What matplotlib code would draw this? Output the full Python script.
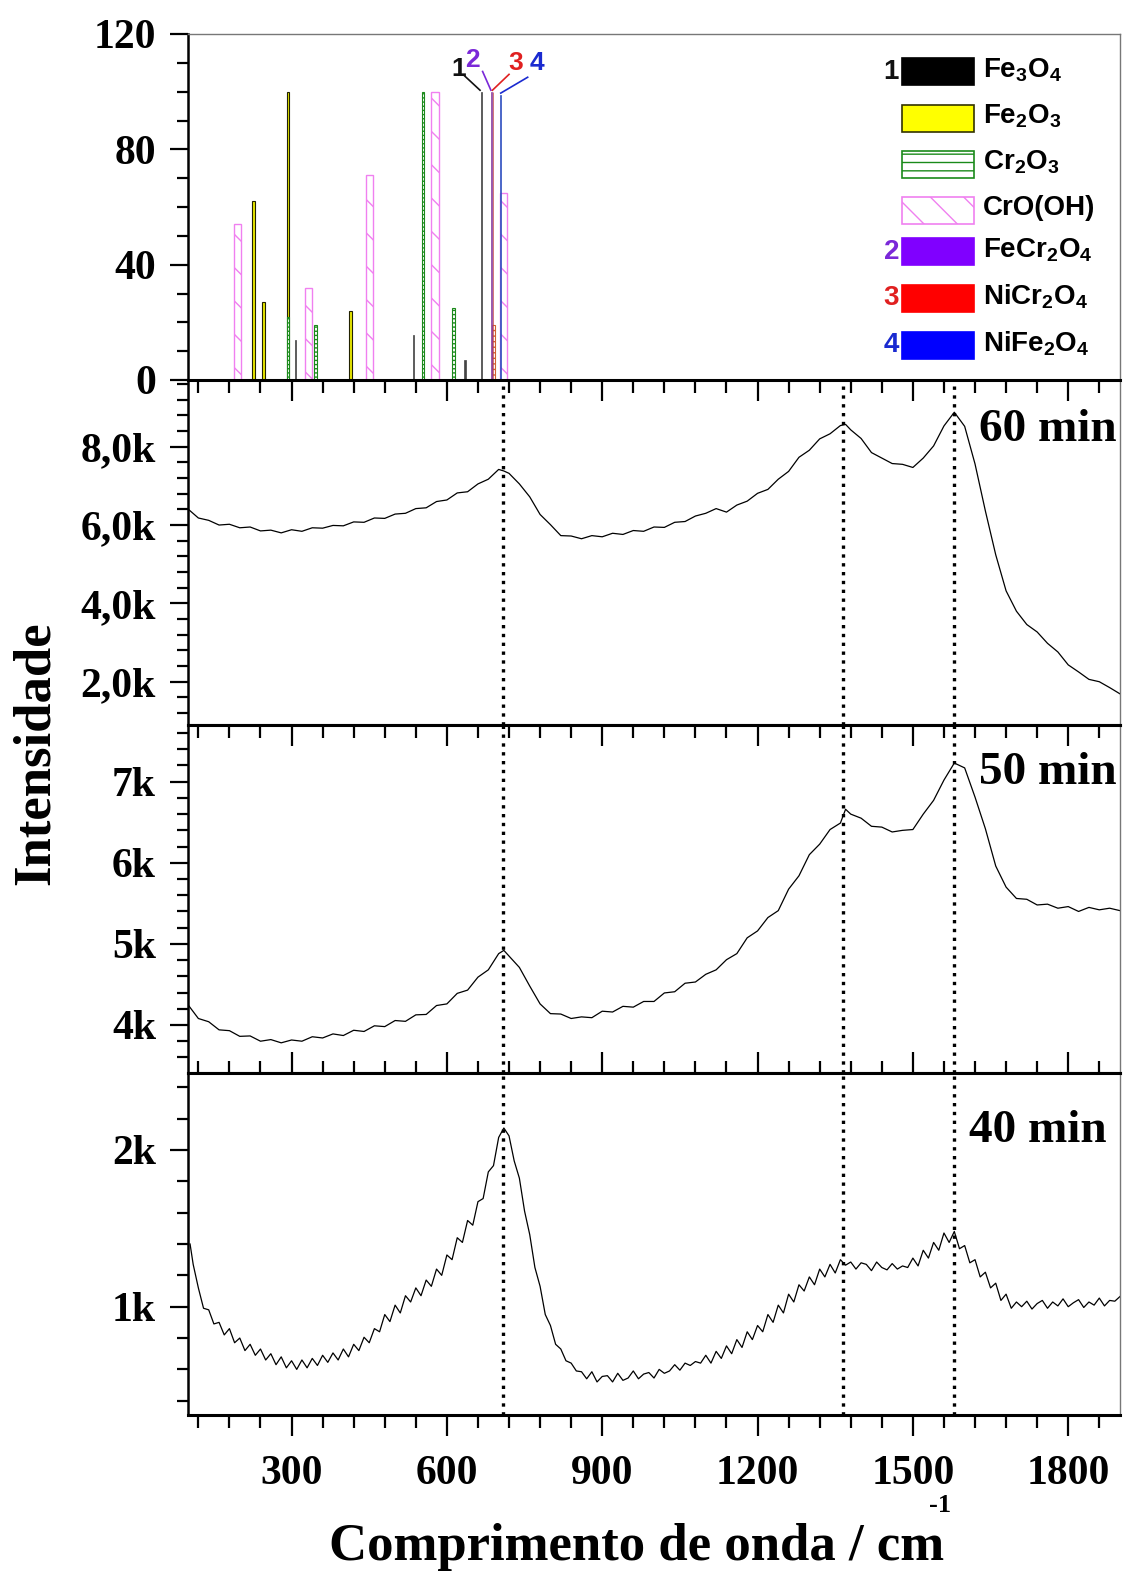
import numpy as np
import matplotlib
matplotlib.use('Agg')
import matplotlib.pyplot as plt
from matplotlib.patches import Rectangle
from matplotlib.ticker import MultipleLocator, FixedLocator, FuncFormatter

plt.rcParams['font.family'] = ['Liberation Serif', 'DejaVu Serif']
plt.rcParams['mathtext.fontset'] = 'custom'
plt.rcParams['mathtext.rm'] = 'Liberation Sans:bold'
plt.rcParams['mathtext.bf'] = 'Liberation Sans:bold'
plt.rcParams['mathtext.default'] = 'rm'
plt.rcParams['hatch.linewidth'] = 1.0

# ---------------- reference bars (top panel) ----------------
fe3o4_pos = [308, 535, 635, 667]
fe3o4_h = [14, 15.6, 7, 100]
fe2o3_pos = [226, 246, 293, 414]
fe2o3_h = [62, 27, 100, 24]
cr2o3_pos = [293, 346, 554, 613]
cr2o3_h = [22, 19, 100, 25]
croh_pos = [196, 332, 450, 577, 709]
croh_h = [54, 32, 71, 100, 65]
fecr2o4_pos = [686]
fecr2o4_h = [100]
nicr2o4_pos = [689, 690]
nicr2o4_h = [100, 19]
nife2o4_pos = [703]
nife2o4_h = [99]

legend_labels = [r'Fe$_3$O$_4$', r'Fe$_2$O$_3$', r'Cr$_2$O$_3$', 'CrO(OH)',
                 r'FeCr$_2$O$_4$', r'NiCr$_2$O$_4$', r'NiFe$_2$O$_4$']
legend_numbers = ['1', '', '', '', '2', '3', '4']

# ---------------- spectra ----------------
wn6050 = [100, 120, 140, 160, 180, 200, 220, 240, 260, 280, 300, 320, 340, 360, 380, 400, 420, 440,
          460, 480, 500, 520, 540, 560, 580, 600, 620, 640, 660, 680, 700, 710, 720, 740, 760, 780,
          800, 820, 840, 860, 880, 900, 920, 940, 960, 980, 1000, 1020, 1040, 1060, 1080, 1100,
          1120, 1140, 1160, 1180, 1200, 1220, 1240, 1260, 1280, 1300, 1320, 1340, 1360, 1370, 1380,
          1400, 1420, 1440, 1460, 1480, 1500, 1520, 1540, 1560, 1580, 1600, 1620, 1640, 1660, 1680,
          1700, 1720, 1740, 1760, 1780, 1800, 1820, 1840, 1860, 1880, 1900]
int60 = [6410, 6180, 6120, 6000, 6020, 5930, 5950, 5850, 5870, 5800, 5880, 5840, 5930, 5920, 5990,
         5980, 6080, 6070, 6180, 6170, 6280, 6300, 6420, 6440, 6600, 6640, 6820, 6850, 7050, 7170,
         7420, 7380, 7320, 7050, 6720, 6270, 6010, 5730, 5720, 5650, 5730, 5700, 5790, 5760, 5860,
         5840, 5950, 5940, 6070, 6090, 6230, 6300, 6420, 6330, 6510, 6610, 6810, 6910, 7170, 7370,
         7730, 7910, 8200, 8330, 8540, 8570, 8430, 8210, 7850, 7710, 7570, 7550, 7470, 7710, 8020,
         8530, 8880, 8520, 7560, 6360, 5240, 4320, 3800, 3460, 3270, 2980, 2760, 2430, 2250, 2060,
         2000, 1850, 1690]
int50 = [4250, 4080, 4040, 3940, 3930, 3860, 3865, 3800, 3820, 3780, 3815, 3800, 3855, 3840, 3890,
         3870, 3935, 3920, 3990, 3980, 4055, 4045, 4125, 4130, 4240, 4260, 4390, 4430, 4590, 4680,
         4880, 4920, 4850, 4710, 4480, 4260, 4140, 4135, 4080, 4100, 4090, 4170, 4160, 4230, 4220,
         4290, 4290, 4395, 4410, 4515, 4530, 4625, 4680, 4805, 4880, 5075, 5160, 5325, 5410, 5675,
         5840, 6100, 6230, 6410, 6490, 6660, 6600, 6550, 6450, 6440, 6380, 6400, 6410, 6600, 6770,
         7020, 7230, 7170, 6810, 6420, 5960, 5700, 5560, 5550, 5480, 5490, 5440, 5460, 5400, 5450,
         5420, 5440, 5410]

wn40 = [104, 110, 120, 130, 140, 150, 160, 170, 180, 190, 200, 210, 220, 230, 240, 250, 260, 270,
        280, 290, 300, 310, 320, 330, 340, 350, 360, 370, 380, 390, 400, 410, 420, 430, 440, 450,
        460, 470, 480, 490, 500, 510, 520, 530, 540, 550, 560, 570, 580, 590, 600, 610, 620, 630,
        640, 650, 660, 670, 680, 690, 700, 710, 720, 730, 740, 750, 760, 770, 780, 790, 800, 810,
        820, 830, 840, 850, 860, 870, 880, 890, 900, 910, 920, 930, 940, 950, 960, 970, 980, 990,
        1000, 1010, 1020, 1030, 1040, 1050, 1060, 1070, 1080, 1090, 1100, 1110, 1120, 1130, 1140,
        1150, 1160, 1170, 1180, 1190, 1200, 1210, 1220, 1230, 1240, 1250, 1260, 1270, 1280, 1290,
        1300, 1310, 1320, 1330, 1340, 1350, 1360, 1370, 1380, 1390, 1400, 1410, 1420, 1430, 1440,
        1450, 1460, 1470, 1480, 1490, 1500, 1510, 1520, 1530, 1540, 1550, 1560, 1570, 1580, 1590,
        1600, 1610, 1620, 1630, 1640, 1650, 1660, 1670, 1680, 1690, 1700, 1710, 1720, 1730, 1740,
        1750, 1760, 1770, 1780, 1790, 1800, 1810, 1820, 1830, 1840, 1850, 1860, 1870, 1880, 1890,
        1900]
int40 = [1400, 1270, 1120, 990, 980, 890, 900, 820, 860, 770, 800, 720, 760, 690, 730, 660, 700, 630,
         680, 610, 655, 600, 660, 610, 670, 625, 690, 645, 705, 660, 730, 680, 760, 720, 805, 770,
         860, 840, 950, 905, 1010, 960, 1070, 1030, 1120, 1070, 1170, 1130, 1240, 1200, 1330, 1300,
         1440, 1410, 1550, 1520, 1670, 1690, 1860, 1900, 2080, 2140, 2090, 1930, 1820, 1610, 1460,
         1250, 1130, 950, 880, 760, 730, 655, 640, 590, 585, 540, 585, 520, 555, 560, 520, 575, 530,
         545, 590, 540, 570, 580, 545, 600, 575, 590, 630, 595, 640, 625, 650, 640, 690, 640, 715,
         670, 750, 700, 790, 740, 840, 790, 880, 840, 950, 900, 1010, 960, 1080, 1030, 1140, 1100,
         1190, 1140, 1240, 1190, 1270, 1215, 1300, 1265, 1285, 1240, 1280, 1270, 1230, 1285, 1250,
         1235, 1275, 1240, 1260, 1250, 1310, 1260, 1360, 1310, 1410, 1360, 1470, 1410, 1480, 1370,
         1390, 1280, 1300, 1190, 1220, 1120, 1150, 1040, 1080, 990, 1030, 1000, 1035, 985, 1020, 1040,
         990, 1030, 1005, 1050, 1000, 1025, 1045, 995, 1030, 1010, 1055, 1005, 1040, 1035, 1065]

ref_lines = [708, 1365, 1580]
panel_labels = ['60 min', '50 min', '40 min']

# ---------------- figure ----------------
W_PX, H_PX = 1124, 1573
fig = plt.figure(figsize=(W_PX / 100, H_PX / 100), dpi=100)
L, Wd = 188 / W_PX, 932 / W_PX


def fr(top, bot):
    return [L, 1 - bot / H_PX, Wd, (bot - top) / H_PX]


ax0 = fig.add_axes(fr(34, 380))
ax1 = fig.add_axes(fr(380, 725))
ax2 = fig.add_axes(fr(725, 1073))
ax3 = fig.add_axes(fr(1073, 1415))

TICKFS = 30
for ax in (ax0, ax1, ax2, ax3):
    ax.set_xlim(100, 1900)
    ax.spines['left'].set_linewidth(1.8)
    ax.spines['right'].set_linewidth(1.0)
    ax.spines['right'].set_color('#777777')
    ax.tick_params(axis='y', which='both', direction='out', left=True, right=False,
                   width=1.6, labelsize=TICKFS, pad=10)
    ax.tick_params(axis='y', which='major', length=13)
    ax.tick_params(axis='y', which='minor', length=8)
    ax.xaxis.set_major_locator(MultipleLocator(300))
    ax.xaxis.set_minor_locator(MultipleLocator(60))

# top panel
ax0.spines['top'].set_linewidth(1.0)
ax0.spines['top'].set_color('#777777')
ax0.spines['bottom'].set_linewidth(1.8)
ax0.tick_params(axis='x', which='both', bottom=False, top=False, labelbottom=False)
ax0.set_ylim(0, 120)
ax0.yaxis.set_major_locator(MultipleLocator(40))
ax0.yaxis.set_minor_locator(MultipleLocator(10))

pink = '#f080f0'
green = '#1a8a1a'
ax0.bar(croh_pos, croh_h, width=14, facecolor='white', edgecolor=pink, hatch='\\', lw=1.0, zorder=2)
ax0.bar(fe2o3_pos, fe2o3_h, width=5, facecolor='#e8e800', edgecolor='#222200', lw=0.8, zorder=3)
ax0.bar(cr2o3_pos, cr2o3_h, width=5, facecolor='white', edgecolor=green, hatch='----', lw=0.8, zorder=3)
ax0.bar(fe3o4_pos, fe3o4_h, width=2, facecolor='#444444', edgecolor='#444444', lw=0.5, zorder=4)
ax0.bar(fecr2o4_pos, fecr2o4_h, width=2, facecolor='#8a3fa0', edgecolor='#8a3fa0', lw=0.5, zorder=4)
ax0.bar(nicr2o4_pos[:1], nicr2o4_h[:1], width=1.5, facecolor='#c04040', edgecolor='#c04040', lw=0.5, zorder=4)
ax0.bar(nicr2o4_pos[1:], nicr2o4_h[1:], width=5, facecolor='white', edgecolor='#d06030', hatch='---',
        lw=0.8, zorder=3)
ax0.bar(nife2o4_pos, nife2o4_h, width=2, facecolor='#3050c0', edgecolor='#3050c0', lw=0.5, zorder=4)

# numbered labels with leader lines
num_specs = [('1', '#111111', 622, 108, (634, 105.5), (664, 100.5)),
             ('2', '#7a28d8', 650, 111, (669, 107), (685, 100.5)),
             ('3', '#e02020', 733, 110, (720, 106), (688, 100.5)),
             ('4', '#1a2ad0', 774, 110, (756, 105), (704, 99.5))]
for t, c, tx, ty, p1, p2 in num_specs:
    ax0.text(tx, ty, t, color=c, fontsize=19, fontweight='bold', family='Liberation Sans',
             ha='center', va='center')
    ax0.plot([p1[0], p2[0]], [p1[1], p2[1]], color=c, lw=1.2, clip_on=False)

# legend (drawn in axes coordinates)
leg_y = [0.891, 0.757, 0.624, 0.491, 0.371, 0.236, 0.101]
leg_face = ['black', '#ffff00', 'white', 'white', '#8000ff', '#ff0000', '#0000ff']
leg_edge = ['black', '#333300', green, pink, '#8000ff', '#ff0000', '#0000ff']
leg_hatch = [None, None, '--', '\\', None, None, None]
num_col = ['#111111', None, None, None, '#7a28d8', '#e02020', '#1a2ad0']
px0, pw, ph = 0.766, 0.077, 0.078
for i, lab in enumerate(legend_labels):
    ax0.add_patch(Rectangle((px0, leg_y[i] - ph / 2), pw, ph, transform=ax0.transAxes,
                            facecolor=leg_face[i], edgecolor=leg_edge[i], hatch=leg_hatch[i],
                            lw=1.2, zorder=5))
    ax0.text(0.853, leg_y[i] + 0.005, lab, transform=ax0.transAxes, fontsize=20,
             family='Liberation Sans', fontweight='bold', ha='left', va='center', zorder=5)
    if legend_numbers[i]:
        ax0.text(0.763, leg_y[i], legend_numbers[i], transform=ax0.transAxes, fontsize=20,
                 family='Liberation Sans', fontweight='bold', color=num_col[i],
                 ha='right', va='center', zorder=5)

# spectra panels
spectra = [(ax1, wn6050, int60, (895, 9703), 2000, 400,
            lambda v, p: ('%.1fk' % (v / 1000)).replace('.', ',')),
           (ax2, wn6050, int50, (3408, 7699), 1000, 200, lambda v, p: '%dk' % round(v / 1000)),
           (ax3, wn40, int40, (309, 2491), 1000, 200, lambda v, p: '%dk' % round(v / 1000))]
label_pos = [(0.996, 0.855), (0.996, 0.862), (0.986, 0.83)]
for k, (ax, xs, ys, yl, maj, mnr, fmt) in enumerate(spectra):
    ax.plot(xs, ys, color='black', lw=0.9)
    ax.set_ylim(*yl)
    ax.yaxis.set_major_locator(MultipleLocator(maj))
    ax.yaxis.set_minor_locator(MultipleLocator(mnr))
    ax.yaxis.set_major_formatter(FuncFormatter(fmt))
    ax.spines['top'].set_linewidth(2.2)
    ax.spines['bottom'].set_linewidth(2.2)
    ax.tick_params(axis='x', which='both', direction='in', top=True, bottom=False,
                   labeltop=False, labelbottom=False, width=1.6)
    ax.tick_params(axis='x', which='major', length=15)
    ax.tick_params(axis='x', which='minor', length=9)
    for xv in ref_lines:
        ax.axvline(xv, color='black', ls=':', lw=2.4, zorder=1)
    ax.text(label_pos[k][0], label_pos[k][1], panel_labels[k], transform=ax.transAxes,
            fontsize=34, fontweight='bold', ha='right', va='center', zorder=6)

# bottom axis ticks (outward) with labels
ax3.xaxis.set_major_locator(FixedLocator([300, 600, 900, 1200, 1500, 1800]))
ax3.tick_params(axis='x', which='both', bottom=True, labelbottom=True, labelsize=TICKFS)
ax3.tick_params(axis='x', which='major', direction='out', length=15, pad=14)
ax3.tick_params(axis='x', which='minor', direction='out', length=9)

for ax in (ax0, ax1, ax2, ax3):
    for lab in ax.get_yticklabels() + ax.get_xticklabels():
        lab.set_fontweight('bold')

fig.text(637 / W_PX, 1 - 1547 / H_PX, 'Comprimento de onda / cm', fontsize=38,
         fontweight='bold', ha='center', va='center')
fig.text(940 / W_PX, 1 - 1506 / H_PX, '-1', fontsize=19, fontweight='bold', ha='center', va='center')
fig.text(36 / W_PX, 1 - 753 / H_PX, 'Intensidade', fontsize=38, fontweight='bold',
         rotation=90, ha='center', va='center')

fig.savefig('out.png', dpi=100)
